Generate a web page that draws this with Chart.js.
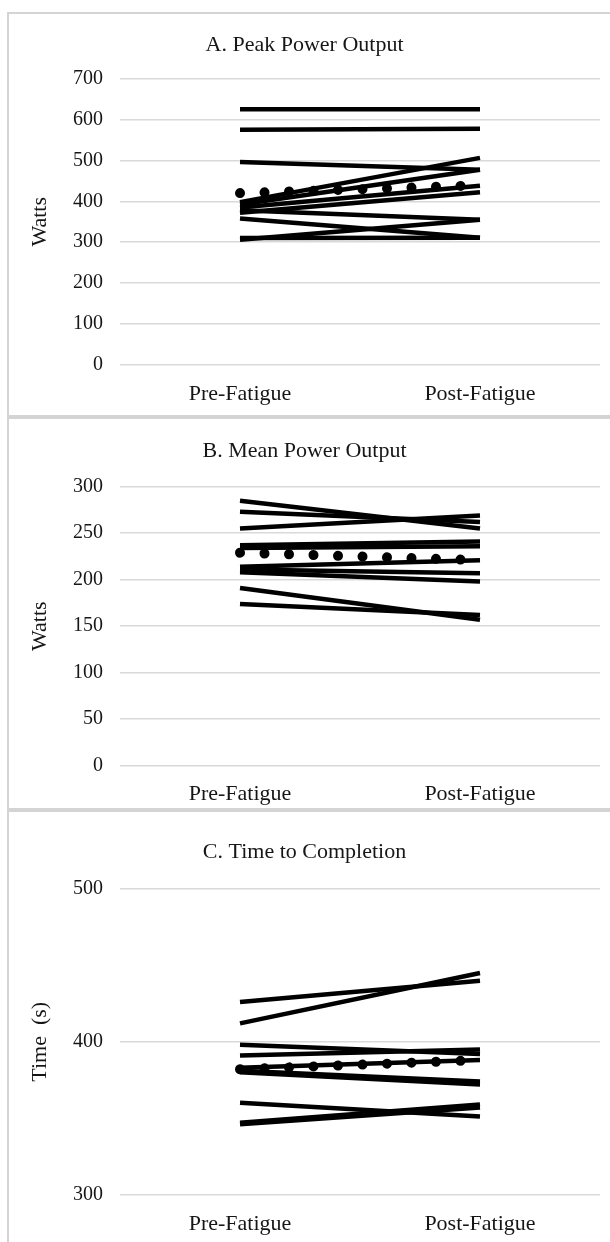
<!DOCTYPE html>
<html>
<head>
<meta charset="utf-8">
<script src="https://cdn.jsdelivr.net/npm/chart.js@4.4.1/dist/chart.umd.min.js"></script>
<style>
  html, body { margin: 0; padding: 0; background: #fff; }
  body { width: 610px; height: 1242px; position: relative; overflow: hidden; }
  .panel { position: absolute; left: 7px; width: 603px; box-sizing: border-box;
           border: 2px solid #d4d4d4; border-right: none; }
  .panel div { position: relative; width: 100%; height: 100%; }
  #pA { top: 12px; height: 405px; }
  #pB { top: 417px; height: 393px; }
  #pC { top: 810px; height: 434px; }
</style>
</head>
<body>
<div class="panel" id="pA"><div><canvas id="chartA"></canvas></div></div>
<div class="panel" id="pB"><div><canvas id="chartB"></canvas></div></div>
<div class="panel" id="pC"><div><canvas id="chartC"></canvas></div></div>
<script>
// categories
var categories = ['Pre-Fatigue', 'Post-Fatigue'];

// A. peak power (watts), one entry per participant
var peakPre  = [625, 575, 496, 398, 392, 385, 372, 378, 358, 306, 310];
var peakPost = [625, 577, 477, 506, 477, 438, 422, 355, 311, 355, 311];
var peakMean = [420, 439];
var peakTicks = [0, 100, 200, 300, 400, 500, 600, 700];

// B. mean power (watts)
var meanPre  = [285, 273, 255, 237, 234, 214, 211, 208, 191, 174];
var meanPost = [255, 262, 269, 241, 236, 221, 207, 198, 157, 162];
var meanMean = [229, 221];
var meanTicks = [0, 50, 100, 150, 200, 250, 300];

// C. time to completion (s)
var timePre  = [426, 412, 398, 391, 383, 381, 380, 360, 347, 346];
var timePost = [440, 445, 392, 395, 388, 374, 372, 351, 359, 357];
var timeMean = [382, 388];
var timeTicks = [300, 400, 500];

var serif = 'Liberation Serif';
var ink = '#161616';

function buildDatasets(pre, post, avg) {
    var sets = [{
        data: avg,
        borderColor: '#000',
        borderWidth: 10,
        borderDash: [0.01, 24.5],
        borderCapStyle: 'round',
        pointRadius: 0,
        order: 0
    }];
    for (var i = 0; i < pre.length; i++) {
        sets.push({
            data: [pre[i], post[i]],
            borderColor: '#000',
            borderWidth: 4.5,
            pointRadius: 0,
            order: 1
        });
    }
    return sets;
}

// p: positions in canvas px (title centre, plot top/bottom, x label centre, canvas height)
function makePanel(id, title, yTitle, ticks, pre, post, avg, p) {
    var tsize = 22;
    var tlh = tsize * 1.2;
    new Chart(document.getElementById(id), {
        type: 'line',
        data: { labels: categories, datasets: buildDatasets(pre, post, avg) },
        options: {
            responsive: true,
            maintainAspectRatio: false,
            animation: false,
            events: [],
            layout: { padding: { left: 0, right: 10, top: 0, bottom: 0 } },
            plugins: {
                legend: { display: false },
                tooltip: { enabled: false },
                title: {
                    display: true,
                    text: title,
                    color: ink,
                    font: { family: serif, size: tsize, weight: 'normal' },
                    padding: { top: p.title - tlh / 2, bottom: p.top - p.title - tlh / 2 }
                }
            },
            scales: {
                x: {
                    offset: true,
                    grid: { display: false },
                    border: { display: false },
                    ticks: { color: ink, font: { family: serif, size: 22 }, padding: p.label - p.bottom - 20 },
                    afterFit: function (s) { s.height = p.h - p.bottom; }
                },
                y: {
                    min: ticks[0],
                    max: ticks[ticks.length - 1],
                    afterBuildTicks: function (s) {
                        s.ticks = ticks.map(function (v) { return { value: v }; });
                    },
                    grid: { color: '#d9d9d9', lineWidth: 1.5, drawTicks: false },
                    border: { display: false },
                    ticks: { color: ink, font: { family: serif, size: 20 }, padding: 17 },
                    title: {
                        display: true,
                        text: yTitle,
                        color: ink,
                        font: { family: serif, size: 22 },
                        padding: { top: 18, bottom: 0 }
                    },
                    afterFit: function (s) { s.width = 111; }
                }
            }
        }
    });
}

makePanel('chartA', 'A. Peak Power Output', 'Watts', peakTicks, peakPre, peakPost, peakMean,
    { title: 31, top: 64.5, bottom: 351, label: 379, h: 401 });
makePanel('chartB', 'B. Mean Power Output', 'Watts', meanTicks, meanPre, meanPost, meanMean,
    { title: 32, top: 67.7, bottom: 346.7, label: 374, h: 389 });
makePanel('chartC', 'C. Time to Completion', 'Time  (s)', timeTicks, timePre, timePost, timeMean,
    { title: 40, top: 77, bottom: 384.5, label: 413, h: 432 });
</script>
</body>
</html>
